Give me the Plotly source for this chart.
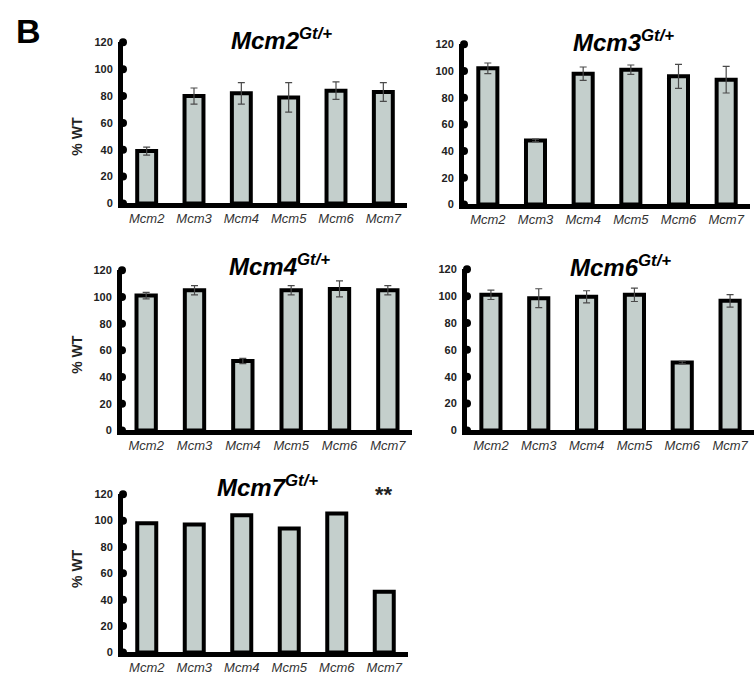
import plotly.graph_objects as go

# Transcript levels (% of wild type) in each heterozygous gene-trap line
genes = ["Mcm2", "Mcm3", "Mcm4", "Mcm5", "Mcm6", "Mcm7"]
y_ticks = [0, 20, 40, 60, 80, 100, 120]

mcm2_gt = [39, 80, 82, 79, 84, 83]
mcm2_gt_err = [3, 6, 8, 11, 6.5, 7]

mcm3_gt = [102, 48, 98, 101, 96, 93.5]
mcm3_gt_err = [4, 1, 5, 3.5, 9, 10]

mcm4_gt = [101, 105, 52, 105, 106, 105]
mcm4_gt_err = [2.5, 3.5, 2, 3.5, 6, 3.5]

mcm6_gt = [101, 98.5, 99.5, 101, 50.5, 96.5]
mcm6_gt_err = [3.5, 7, 4.5, 5, 1, 4.7]

mcm7_gt = [98, 97, 104, 94, 105.5, 46]

panel_titles = ["Mcm2", "Mcm3", "Mcm4", "Mcm6", "Mcm7"]
panel_values = [mcm2_gt, mcm3_gt, mcm4_gt, mcm6_gt, mcm7_gt]
panel_errors = [mcm2_gt_err, mcm3_gt_err, mcm4_gt_err, mcm6_gt_err, None]

W, H = 756, 683
FONT = "Arial, Liberation Sans, sans-serif"

# plot boxes in pixels: (left, top, right, bottom)
boxes = [
    (123, 37, 407, 201),
    (464, 39, 750, 202),
    (122, 269, 412, 432),
    (467, 268, 754, 432),
    (123, 497, 408, 658),
]
# title anchor (left x, middle y) in pixels
title_pos = [(229, 34), (571, 36), (227, 264), (568, 265), (215, 489)]
ylabel_panels = {0: 133, 2: 355, 4: 573}

fig = go.Figure()
layout = {}
annotations = []

for i, (vals, errs, box) in enumerate(zip(panel_values, panel_errors, boxes)):
    n = i + 1
    xa = "x" if n == 1 else f"x{n}"
    ya = "y" if n == 1 else f"y{n}"
    fig.add_trace(go.Bar(
        x=list(range(len(genes))), y=vals, width=0.4,
        marker=dict(color="#c4cfcc", line=dict(color="black", width=4)),
        error_y=dict(type="data", array=errs if errs else [0] * len(vals),
                     visible=errs is not None, color="#4a4a4a",
                     thickness=1.2, width=3.5),
        xaxis=xa, yaxis=ya, hoverinfo="y",
    ))
    # round tick marks sitting on the value axis
    fig.add_trace(go.Scatter(
        x=[-0.5] * len(y_ticks), y=y_ticks, mode="markers",
        marker=dict(color="black", size=8), cliponaxis=False,
        xaxis=xa, yaxis=ya, hoverinfo="skip",
    ))
    l, t, r, b = box
    layout["xaxis" if n == 1 else f"xaxis{n}"] = dict(
        domain=[l / W, r / W], range=[-0.5, len(genes) - 0.5],
        tickvals=list(range(len(genes))), ticktext=genes,
        tickfont=dict(family=FONT, size=13, color="#333", style="italic"),
        showline=True, linecolor="black", linewidth=5, ticks="",
        ticklabelstandoff=-1,
        showgrid=False, zeroline=False, anchor=ya, fixedrange=True,
    )
    layout["yaxis" if n == 1 else f"yaxis{n}"] = dict(
        domain=[1 - b / H, 1 - t / H], range=[0, 120], tickvals=y_ticks,
        tickfont=dict(family=FONT, size=11, color="#222", weight="bold"),
        showline=True, linecolor="black", linewidth=5, ticks="outside",
        ticklen=3, tickcolor="rgba(0,0,0,0)",
        showgrid=False, zeroline=False, anchor=xa, fixedrange=True,
    )
    tx, ty = title_pos[i]
    annotations.append(dict(
        text=f"<b><i>{panel_titles[i]}<sup>Gt/+</sup></i></b>",
        x=tx / W, y=1 - ty / H, xref="paper", yref="paper",
        xanchor="left", yanchor="middle", showarrow=False,
        font=dict(family=FONT, size=24, color="black"),
    ))
    if i in ylabel_panels:
        annotations.append(dict(
            text="<b>% WT</b>", x=77 / W, y=1 - ylabel_panels[i] / H,
            xref="paper", yref="paper", xanchor="center", yanchor="middle",
            textangle=-90, showarrow=False,
            font=dict(family=FONT, size=14, color="#222"),
        ))

# significance mark over the gene-trapped Mcm7 bar
annotations.append(dict(
    text="<b>**</b>", x=5, y=1 - 497 / H, xref="x5", yref="paper",
    xanchor="center", yanchor="middle", showarrow=False,
    font=dict(family=FONT, size=22, color="#222"),
))
# panel letter
annotations.append(dict(
    text="<b>B</b>", x=14 / W, y=1 - 25 / H, xref="paper", yref="paper",
    xanchor="left", yanchor="middle", showarrow=False,
    font=dict(family=FONT, size=34, color="black"),
))

fig.update_layout(
    width=W, height=H, margin=dict(l=0, r=0, t=0, b=0),
    paper_bgcolor="white", plot_bgcolor="white", showlegend=False,
    bargap=0.6, annotations=annotations, **layout,
)

fig.write_html("out.html")
